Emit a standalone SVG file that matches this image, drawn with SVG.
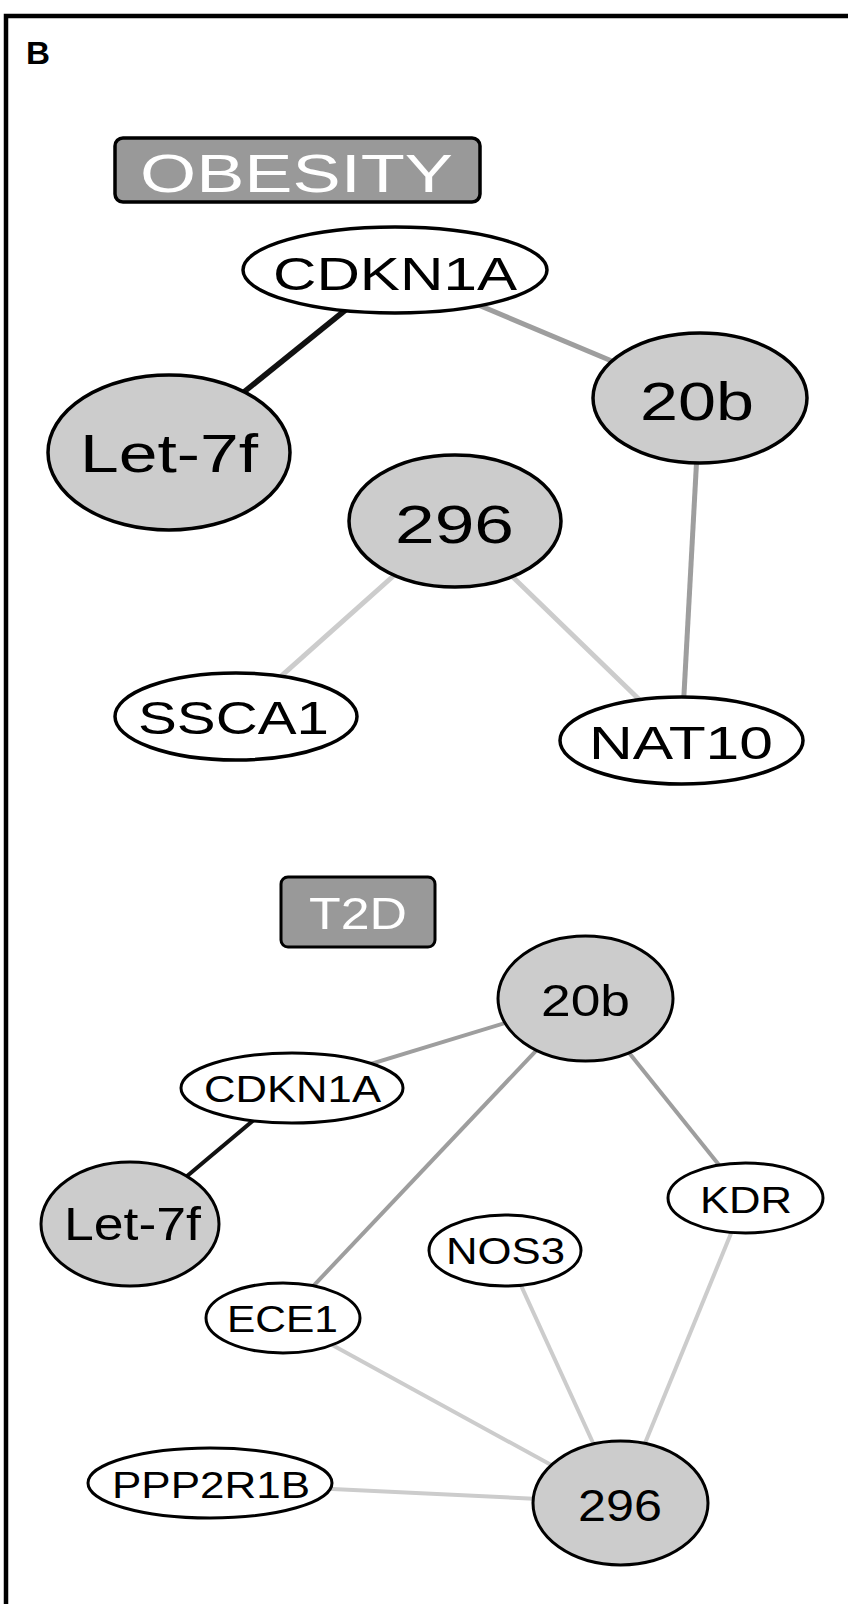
<svg xmlns="http://www.w3.org/2000/svg" width="848" height="1604" viewBox="0 0 848 1604">
  <style>
    text { font-family: "Liberation Sans", Arial, sans-serif; text-anchor: middle; fill: #000; }
    .panel { font-weight: bold; text-anchor: start; }
    .title { fill: #fff; }
    .frame { stroke: #000; stroke-width: 4.5; fill: none; }
    .box { fill: #999999; stroke: #000; stroke-width: 3.5; }
    .mir { fill: #cccccc; stroke: #000; stroke-width: 3.5; }
    .gene { fill: #fff; stroke: #000; stroke-width: 3.5; }
    .t2d .mir, .t2d .gene { stroke-width: 3; }
    .e-strong { stroke: #111; }
    .e-mid { stroke: #9e9e9e; }
    .e-weak { stroke: #cccccc; }
    #edges-obesity line { stroke-width: 5; }
    #edges-t2d line { stroke-width: 4; }
    #edges-obesity .e-strong { stroke-width: 5.5; }
  </style>

  <rect width="848" height="1604" fill="#fff"/>

  <!-- panel frame: top and left rules only -->
  <path class="frame" d="M6 1604 V16 H848"/>
  <text class="panel" x="26" y="64" font-size="31" textLength="24" lengthAdjust="spacingAndGlyphs">B</text>

  <!-- ===== OBESITY network ===== -->
  <g id="edges-obesity">
    <line class="e-strong" x1="395" y1="270" x2="169" y2="452.5"/>
    <line class="e-mid" x1="395" y1="270" x2="700" y2="398"/>
    <line class="e-mid" x1="700" y1="398" x2="681.5" y2="740.5"/>
    <line class="e-weak" x1="455" y1="521" x2="236" y2="716.5"/>
    <line class="e-weak" x1="455" y1="521" x2="681.5" y2="740.5"/>
  </g>

  <g id="label-obesity">
    <rect class="box" x="115" y="138" width="365" height="64" rx="8"/>
    <text class="title" x="296.5" y="192" font-size="54" textLength="313" lengthAdjust="spacingAndGlyphs">OBESITY</text>
  </g>

  <g id="ob-cdkn1a">
    <ellipse class="gene" cx="395" cy="270" rx="152" ry="43"/>
    <text x="395" y="290" font-size="46" textLength="244" lengthAdjust="spacingAndGlyphs">CDKN1A</text>
  </g>
  <g id="ob-let7f">
    <ellipse class="mir" cx="169" cy="452.5" rx="121" ry="77.5"/>
    <text x="169" y="472" font-size="53" textLength="178" lengthAdjust="spacingAndGlyphs">Let-7f</text>
  </g>
  <g id="ob-20b">
    <ellipse class="mir" cx="700" cy="398" rx="107" ry="65"/>
    <text x="697" y="420" font-size="53" textLength="114" lengthAdjust="spacingAndGlyphs">20b</text>
  </g>
  <g id="ob-296">
    <ellipse class="mir" cx="455" cy="521" rx="106" ry="66"/>
    <text x="454.5" y="543" font-size="53" textLength="119" lengthAdjust="spacingAndGlyphs">296</text>
  </g>
  <g id="ob-ssca1">
    <ellipse class="gene" cx="236" cy="716.5" rx="121" ry="43.5"/>
    <text x="233.5" y="734" font-size="46" textLength="191" lengthAdjust="spacingAndGlyphs">SSCA1</text>
  </g>
  <g id="ob-nat10">
    <ellipse class="gene" cx="681.5" cy="740.5" rx="121.5" ry="43.5"/>
    <text x="681" y="759" font-size="46" textLength="184" lengthAdjust="spacingAndGlyphs">NAT10</text>
  </g>

  <!-- ===== T2D network ===== -->
  <g id="edges-t2d">
    <line class="e-mid" x1="585.5" y1="998.5" x2="292" y2="1088"/>
    <line class="e-strong" x1="292" y1="1088" x2="130" y2="1224"/>
    <line class="e-mid" x1="585.5" y1="998.5" x2="283" y2="1318"/>
    <line class="e-mid" x1="585.5" y1="998.5" x2="745.5" y2="1198"/>
    <line class="e-weak" x1="283" y1="1318" x2="620.5" y2="1503"/>
    <line class="e-weak" x1="505" y1="1250.5" x2="620.5" y2="1503"/>
    <line class="e-weak" x1="745.5" y1="1198" x2="620.5" y2="1503"/>
    <line class="e-weak" x1="210" y1="1483" x2="620.5" y2="1503"/>
  </g>

  <g id="label-t2d">
    <rect class="box" x="281" y="877" width="154" height="70" rx="7" style="stroke-width:3"/>
    <text class="title" x="358" y="929" font-size="45" textLength="98" lengthAdjust="spacingAndGlyphs">T2D</text>
  </g>

  <g class="t2d">
    <g id="t2d-20b">
      <ellipse class="mir" cx="585.5" cy="998.5" rx="87.5" ry="62.5"/>
      <text x="585.5" y="1016" font-size="45" textLength="89" lengthAdjust="spacingAndGlyphs">20b</text>
    </g>
    <g id="t2d-cdkn1a">
      <ellipse class="gene" cx="292" cy="1088" rx="111" ry="35"/>
      <text x="292.5" y="1102" font-size="37" textLength="177" lengthAdjust="spacingAndGlyphs">CDKN1A</text>
    </g>
    <g id="t2d-let7f">
      <ellipse class="mir" cx="130" cy="1224" rx="89" ry="62"/>
      <text x="132.5" y="1240" font-size="47" textLength="137" lengthAdjust="spacingAndGlyphs">Let-7f</text>
    </g>
    <g id="t2d-kdr">
      <ellipse class="gene" cx="745.5" cy="1198" rx="77.5" ry="35"/>
      <text x="746" y="1213" font-size="37" textLength="92" lengthAdjust="spacingAndGlyphs">KDR</text>
    </g>
    <g id="t2d-nos3">
      <ellipse class="gene" cx="505" cy="1250.5" rx="76" ry="35.5"/>
      <text x="505.5" y="1264" font-size="37" textLength="119" lengthAdjust="spacingAndGlyphs">NOS3</text>
    </g>
    <g id="t2d-ece1">
      <ellipse class="gene" cx="283" cy="1318" rx="77" ry="35"/>
      <text x="282.5" y="1332" font-size="37" textLength="111" lengthAdjust="spacingAndGlyphs">ECE1</text>
    </g>
    <g id="t2d-ppp2r1b">
      <ellipse class="gene" cx="210" cy="1483" rx="122" ry="35"/>
      <text x="211" y="1498" font-size="37" textLength="198" lengthAdjust="spacingAndGlyphs">PPP2R1B</text>
    </g>
    <g id="t2d-296">
      <ellipse class="mir" cx="620.5" cy="1503" rx="87.5" ry="62"/>
      <text x="620" y="1521" font-size="45" textLength="84" lengthAdjust="spacingAndGlyphs">296</text>
    </g>
  </g>
</svg>
